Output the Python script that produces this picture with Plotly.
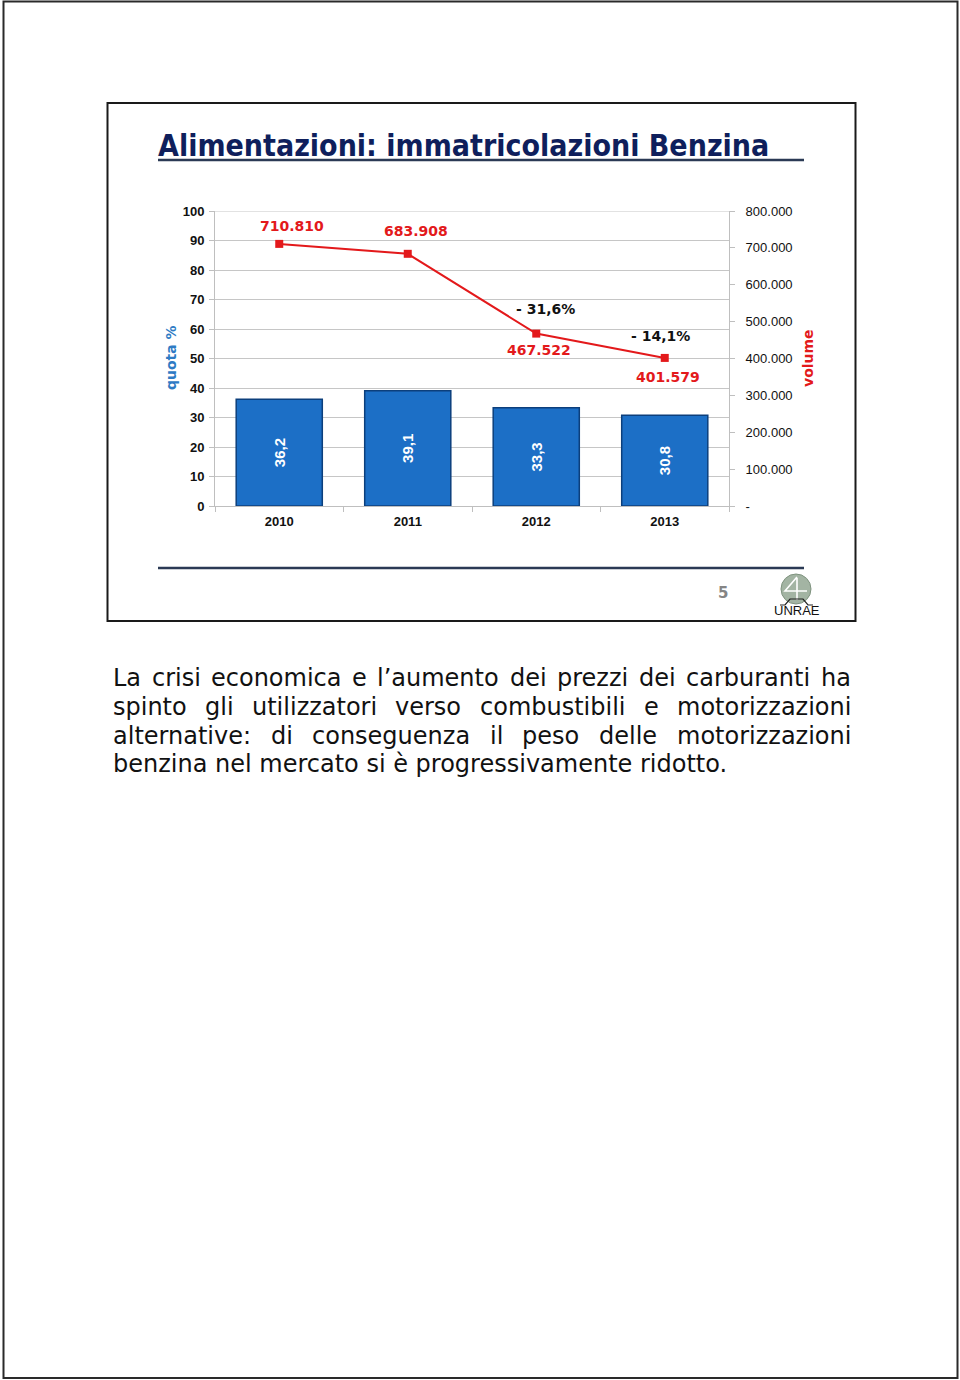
import plotly.graph_objects as go

# ---------------- data ----------------
years = ["2010", "2011", "2012", "2013"]
quota = [36.2, 39.1, 33.3, 30.8]            # share % (bars, left axis)
volume = [710810, 683908, 467522, 401579]  # registrations (line, right axis)
right_ticks = [0, 100000, 200000, 300000, 400000, 500000, 600000, 700000, 800000]

title_text = "Alimentazioni: immatricolazioni Benzina"
para_justified = [
    "La crisi economica e l\u2019aumento dei prezzi dei carburanti ha",
    "spinto gli utilizzatori verso combustibili e motorizzazioni",
    "alternative: di conseguenza il peso delle motorizzazioni",
]
para_last = "benzina nel mercato si \u00e8 progressivamente ridotto."

W, H = 960, 1380


def px(x):
    return x / W


def py(y):
    return 1 - y / H


def fmt_it(v):
    return "-" if v == 0 else f"{v:,}".replace(",", ".")


COND = "DejaVu Sans Condensed, DejaVu Sans"
VERD = "DejaVu Sans"
ARIAL = "Liberation Sans, Arial"

# DejaVu Sans advance widths (em) used to justify the paragraph lines
CW = {" ": .318, "a": .613, "b": .635, "c": .550, "d": .635, "e": .615, "f": .352, "g": .635,
      "h": .634, "i": .278, "j": .278, "k": .579, "l": .278, "m": .974, "n": .634, "o": .612,
      "p": .635, "q": .635, "r": .411, "s": .521, "t": .392, "u": .634, "v": .592, "w": .818,
      "x": .592, "y": .592, "z": .525, ":": .337, ".": .318, "\u2019": .318, "L": .557,
      "\u00e8": .615}
PARA_SIZE = 24
PARA_L, PARA_R = 112, 850
para_y = [678, 707, 736, 764]


def word_w(w):
    return sum(CW.get(c, .6) for c in w) * PARA_SIZE


fig = go.Figure()

fig.add_trace(go.Bar(
    x=years, y=quota, yaxis="y",
    marker=dict(color="#1c6fc6", line=dict(color="#0c3f7c", width=1.5)),
    text=[f"{v:.1f}".replace(".", ",") for v in quota],
    textposition="inside", insidetextanchor="middle", textangle=-90,
    textfont=dict(family=ARIAL, size=15, color="white", weight="bold"),
    constraintext="none",
    showlegend=False, hoverinfo="skip",
))

fig.add_trace(go.Scatter(
    x=years, y=volume, yaxis="y2", mode="lines+markers",
    line=dict(color="#e3191b", width=2),
    marker=dict(symbol="square", size=8, color="#e3191b"),
    showlegend=False, hoverinfo="skip",
))

annotations = []

# value labels on the line
val_offsets = [(13, 18), (8, 23), (3, -16), (3, -19)]
for i, (v, (dx, dy)) in enumerate(zip(volume, val_offsets)):
    annotations.append(dict(
        x=i, y=v, xref="x", yref="y2", xshift=dx, yshift=dy, showarrow=False,
        xanchor="center", yanchor="middle",
        text=fmt_it(v), font=dict(family=VERD, size=14, color="#e3191b", weight="bold"),
    ))

# percent change labels
pct_offsets = {2: (9, 25), 3: (-4, 22)}
for i, (dx, dy) in pct_offsets.items():
    ch = (volume[i] - volume[i - 1]) / volume[i - 1] * 100
    s = f"- {abs(ch):.1f}%".replace(".", ",")
    annotations.append(dict(
        x=i, y=volume[i], xref="x", yref="y2", xshift=dx, yshift=dy, showarrow=False,
        xanchor="center", yanchor="middle",
        text=s, font=dict(family=VERD, size=14, color="#111111", weight="bold"),
    ))

# axis titles
annotations.append(dict(x=px(171), y=py(358), xref="paper", yref="paper", showarrow=False,
                        xanchor="center", yanchor="middle",
                        text="quota %", textangle=-90,
                        font=dict(family=VERD, size=14, color="#2e7bc4", weight="bold")))
annotations.append(dict(x=px(808), y=py(358), xref="paper", yref="paper", showarrow=False,
                        xanchor="center", yanchor="middle",
                        text="volume", textangle=-90,
                        font=dict(family=VERD, size=14, color="#e3191b", weight="bold")))

# title
annotations.append(dict(x=px(157), y=py(145), xref="paper", yref="paper", showarrow=False,
                        xanchor="left", yanchor="middle", text=title_text, borderpad=0,
                        font=dict(family=COND, size=30, color="#0f1f5c", weight="bold")))

# page number and logo text
annotations.append(dict(x=px(723), y=py(593), xref="paper", yref="paper", showarrow=False,
                        xanchor="center", yanchor="middle",
                        text="5", font=dict(family=VERD, size=15, color="#858585", weight="bold")))
annotations.append(dict(x=px(797), y=py(611), xref="paper", yref="paper", showarrow=False,
                        xanchor="center", yanchor="middle",
                        text="UNRAE", font=dict(family=ARIAL, size=13, color="#111111")))

# paragraph (justified lines)
for line, yy in zip(para_justified, para_y):
    words = line.split(" ")
    widths = [word_w(w) for w in words]
    gap = (PARA_R - PARA_L - sum(widths)) / (len(words) - 1)
    xx = PARA_L
    for w, ww in zip(words, widths):
        annotations.append(dict(
            x=px(xx), y=py(yy), xref="paper", yref="paper", showarrow=False,
            xanchor="left", yanchor="middle", text=w, borderpad=0,
            font=dict(family=VERD, size=PARA_SIZE, color="#111111"),
        ))
        xx += ww + gap
annotations.append(dict(
    x=px(PARA_L), y=py(para_y[3]), xref="paper", yref="paper", showarrow=False,
    xanchor="left", yanchor="middle", text=para_last, borderpad=0,
    font=dict(family=VERD, size=PARA_SIZE, color="#111111"),
))

shapes = [
    # page border
    dict(type="rect", xref="paper", yref="paper", x0=px(3.5), x1=px(957.5), y0=py(1.5), y1=py(1378),
         line=dict(color="#2a2a2a", width=2)),
    # slide frame
    dict(type="rect", xref="paper", yref="paper", x0=px(107.5), x1=px(855.5), y0=py(103), y1=py(621),
         line=dict(color="#1a1a1a", width=2)),
    # title underline
    dict(type="line", xref="paper", yref="paper", x0=px(158), x1=px(804), y0=py(160), y1=py(160),
         line=dict(color="#2b3a55", width=2.5)),
    # bottom rule
    dict(type="line", xref="paper", yref="paper", x0=px(158), x1=px(804), y0=py(568), y1=py(568),
         line=dict(color="#2b3a55", width=2.5)),
    # top gridline of the plot area
    dict(type="line", xref="x domain", yref="y", x0=0, x1=1, y0=100, y1=100,
         line=dict(color="#c6c6c6", width=1), layer="below"),
    # logo globe
    dict(type="circle", xref="paper", yref="paper", x0=px(781), x1=px(811), y0=py(574), y1=py(604),
         fillcolor="#a3b4a3", line=dict(color="#7f937f", width=1)),
    dict(type="path", xref="paper", yref="paper",
         path=f"M {px(797)} {py(577)} L {px(785)} {py(591)} L {px(807)} {py(591)} M {px(797)} {py(578)} L {px(797)} {py(600)}",
         line=dict(color="white", width=1.6)),
    dict(type="path", xref="paper", yref="paper",
         path=f"M {px(780)} {py(605)} L {px(785)} {py(605)} L {px(790)} {py(599)} L {px(803)} {py(599)} L {px(808)} {py(605)} L {px(813)} {py(605)}",
         line=dict(color="#222222", width=1.2)),
]

fig.update_layout(
    width=W, height=H, autosize=False,
    margin=dict(l=0, r=0, t=0, b=0, pad=0, autoexpand=False),
    paper_bgcolor="white", plot_bgcolor="white",
    bargap=0.33,
    xaxis=dict(
        domain=[px(215), px(729)], type="category", range=[-0.5, 3.5],
        showline=True, linecolor="#bfbfbf", linewidth=1,
        ticks="outside", tickson="boundaries", ticklen=5, tickcolor="#bfbfbf",
        ticklabelstandoff=3, automargin=False,
        tickfont=dict(family=ARIAL, size=13, color="#111111", weight="bold"),
        showgrid=False, anchor="y", fixedrange=True,
    ),
    yaxis=dict(
        domain=[py(506), py(211)], range=[0, 100], dtick=10,
        showline=True, linecolor="#bfbfbf", linewidth=1,
        ticks="outside", ticklen=5, tickcolor="#bfbfbf",
        ticklabelstandoff=2, automargin=False,
        showgrid=True, gridcolor="#c6c6c6", gridwidth=1,
        zeroline=False,
        tickfont=dict(family=ARIAL, size=13, color="#111111", weight="bold"),
        anchor="x", fixedrange=True,
    ),
    yaxis2=dict(
        overlaying="y", side="right", range=[0, 800000], anchor="x",
        tickvals=right_ticks, ticktext=[fmt_it(v) for v in right_ticks],
        showline=True, linecolor="#bfbfbf", linewidth=1,
        ticks="outside", ticklen=5, tickcolor="#bfbfbf",
        ticklabelstandoff=8, automargin=False,
        showgrid=False, zeroline=False,
        tickfont=dict(family=ARIAL, size=13, color="#111111"),
        fixedrange=True,
    ),
    annotations=annotations,
    shapes=shapes,
)

fig.write_html("out.html")
